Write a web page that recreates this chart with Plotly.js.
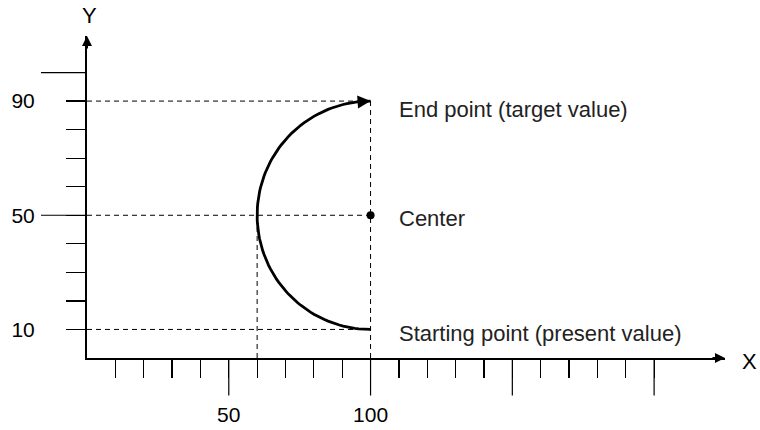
<!DOCTYPE html>
<html>
<head>
<meta charset="utf-8">
<script src="https://cdn.plot.ly/plotly-3.0.1.min.js"></script>
<style>html,body{margin:0;padding:0;background:#fff;}#chart{width:760px;height:430px;}</style>
</head>
<body>
<div id="chart"></div>
<script>
// ---- data ----
const X_TICKS = [10,20,30,40,50,60,70,80,90,100,110,120,130,140,150,160,170,180,190,200];
const X_TICK_LABELS = ["","","","","50","","","","","100","","","","","","","","","",""];
const X_LONG_TICKS = [50,100,150,200];
const Y_TICKS = [10,20,30,40,50,60,70,80,90,100];
const Y_TICK_LABELS = ["10","","","","50","","","","90",""];
const Y_LONG_TICKS = [50,100];
const START_POINT = [100,10];
const CENTER_POINT = [100,50];
const END_POINT = [100,90];
const ARC_RADIUS = 40;
const POINT_LABELS = ["Starting point (present value)","Center","End point (target value)"];
const AXIS_NAMES = ["X","Y"];

// ---- arc through the leftmost point, from start to end, around the center ----
const arcX = [], arcY = [];
for (let d = 270; d >= 90; d -= 2) {
  const a = d * Math.PI / 180;
  arcX.push(CENTER_POINT[0] + ARC_RADIUS * Math.cos(a));
  arcY.push(CENTER_POINT[1] + ARC_RADIUS * Math.sin(a));
}
const leftX = CENTER_POINT[0] - ARC_RADIUS;

const dashed = {color:'#000', width:1, dash:'5px,4px'};
const traces = [];
// horizontal guides
[START_POINT, CENTER_POINT, END_POINT].forEach(p => {
  traces.push({x:[0, p[0]], y:[p[1], p[1]], mode:'lines', line:dashed, hoverinfo:'skip', cliponaxis:false});
});
// vertical guides
traces.push({x:[END_POINT[0], END_POINT[0]], y:[0, END_POINT[1]], mode:'lines', line:dashed, hoverinfo:'skip', cliponaxis:false});
traces.push({x:[leftX, leftX], y:[0, CENTER_POINT[1]], mode:'lines', line:dashed, hoverinfo:'skip', cliponaxis:false});
// arc
traces.push({x:arcX, y:arcY, mode:'lines', line:{color:'#000', width:2.8}, hoverinfo:'skip', cliponaxis:false});
// center dot
traces.push({x:[CENTER_POINT[0]], y:[CENTER_POINT[1]], mode:'markers', marker:{color:'#000', size:8}, hoverinfo:'skip', cliponaxis:false});

const shapes = [];
X_LONG_TICKS.forEach(v => shapes.push({type:'line', xref:'x', yref:'paper', x0:v, x1:v, y0:0, y1:-0.1165, line:{color:'#000', width:1.2}}));
Y_LONG_TICKS.forEach(v => shapes.push({type:'line', xref:'paper', yref:'y', x0:0, x1:-0.0721, y0:v, y1:v, line:{color:'#000', width:1.2}}));

const textFont = {family:'Liberation Sans, Arial, sans-serif', size:22, color:'#222'};
const annotations = [
  // axis arrowheads
  {xref:'paper', yref:'paper', x:1, y:0, ax:-14, ay:0, text:'', showarrow:true, arrowhead:2, arrowwidth:2, arrowsize:1, arrowcolor:'#000', standoff:0},
  {xref:'paper', yref:'paper', x:0, y:1, ax:0, ay:14, text:'', showarrow:true, arrowhead:2, arrowwidth:2, arrowsize:1, arrowcolor:'#000', standoff:0},
  // arc arrowhead at end point
  {xref:'x', yref:'y', x:END_POINT[0], y:END_POINT[1], ax:-14, ay:1, text:'', showarrow:true, arrowhead:2, arrowwidth:2.6, arrowsize:1, arrowcolor:'#000', standoff:0},
  // axis names
  {xref:'paper', yref:'paper', x:0, y:1, text:AXIS_NAMES[1], showarrow:false, xanchor:'center', yanchor:'middle', xshift:2, yshift:21, font:{family:'Liberation Sans, Arial, sans-serif', size:22, color:'#000'}},
  {xref:'paper', yref:'y', x:1, y:0, text:AXIS_NAMES[0], showarrow:false, xanchor:'left', yanchor:'middle', xshift:15, yshift:-3, font:{family:'Liberation Sans, Arial, sans-serif', size:22, color:'#000'}},
  // point labels
  {xref:'x', yref:'y', x:START_POINT[0], y:START_POINT[1], text:POINT_LABELS[0], showarrow:false, xanchor:'left', yanchor:'middle', xshift:26, yshift:-4, font:textFont},
  {xref:'x', yref:'y', x:CENTER_POINT[0], y:CENTER_POINT[1], text:POINT_LABELS[1], showarrow:false, xanchor:'left', yanchor:'middle', xshift:26, yshift:-3, font:textFont},
  {xref:'x', yref:'y', x:END_POINT[0], y:END_POINT[1], text:POINT_LABELS[2], showarrow:false, xanchor:'left', yanchor:'middle', xshift:26, yshift:-8, font:textFont}
];

const tickFont = {family:'Liberation Sans, Arial, sans-serif', size:21, color:'#000'};
const layout = {
  width:760, height:430,
  margin:{l:87, r:35, t:36, b:72, pad:0},
  paper_bgcolor:'#fff', plot_bgcolor:'#fff',
  showlegend:false,
  xaxis:{range:[0,225], showgrid:false, zeroline:false, showline:true, linecolor:'#000', linewidth:2,
         tickmode:'array', tickvals:X_TICKS, ticktext:X_TICK_LABELS, ticks:'outside', ticklen:18, tickwidth:1.2, tickcolor:'#000',
         tickfont:tickFont, ticklabelstandoff:19, fixedrange:true},
  yaxis:{range:[0,112.8], showgrid:false, zeroline:false, showline:true, linecolor:'#000', linewidth:2,
         tickmode:'array', tickvals:Y_TICKS, ticktext:Y_TICK_LABELS, ticks:'outside', ticklen:19, tickwidth:1.2, tickcolor:'#000',
         tickfont:tickFont, ticklabelstandoff:27, fixedrange:true},
  shapes:shapes,
  annotations:annotations
};
Plotly.newPlot('chart', traces, layout, {displayModeBar:false, staticPlot:true});
</script>
</body>
</html>
